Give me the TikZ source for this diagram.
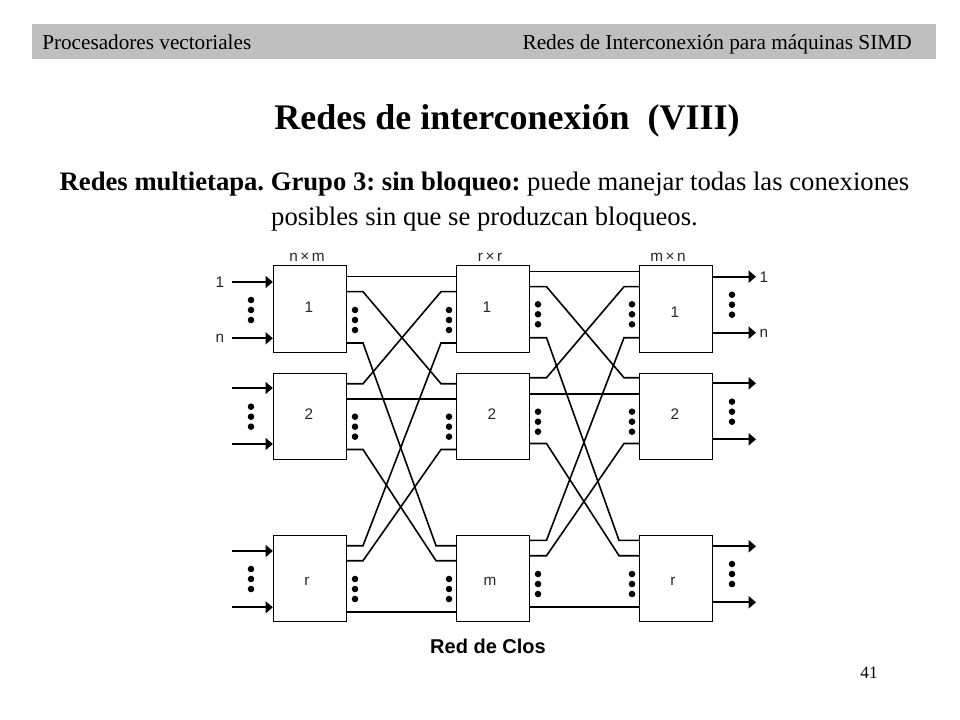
\documentclass[tikz,border=0pt]{standalone}
\usepackage{fontspec}
\setmainfont{Liberation Serif}
\newfontfamily\diagfont{Liberation Sans}
\usetikzlibrary{calc,arrows.meta}
\definecolor{bandgray}{HTML}{BFBFBF}
\tikzset{
  cell/.style={draw,line width=0.75pt,minimum width=55pt,minimum height=64.5pt,inner sep=0pt},
  wire/.style={line width=1.2pt},
  feed/.style={line width=1.6pt,-{Triangle[length=5.5pt,width=9pt]}},
  pip/.style={circle,fill=black,inner sep=0pt,minimum size=4.9pt},
  tag/.style={font=\diagfont\fontsize{11.5pt}{13pt}\selectfont,inner sep=0pt,text=black!85}
}
\begin{document}
\frenchspacing
\begin{tikzpicture}[x=0.75pt,y=-0.75pt]
\useasboundingbox (0,0) rectangle (960,720);

% header
\fill[bandgray] (32,24) rectangle (936,59);
\node[anchor=base west,inner sep=0pt,font=\fontsize{15.9pt}{18pt}\selectfont] (left) at (42,49.5) {Procesadores vectoriales};
\node[anchor=base east,inner sep=0pt,font=\fontsize{16pt}{18pt}\selectfont] (right) at (912,49.5) {Redes de Interconexi\'on para m\'aquinas SIMD};
\node[anchor=base,inner sep=0pt,font=\bfseries\fontsize{27pt}{30pt}\selectfont] (title) at (507,129.5) {Redes de interconexi\'on\ \ (VIII)};
\node[anchor=base,inner sep=0pt,font=\fontsize{20pt}{24pt}\selectfont] (body) at (484.5,191) {\textbf{Redes multietapa. Grupo 3: sin bloqueo:} puede manejar todas las conexiones};
\node[anchor=base,inner sep=0pt,font=\fontsize{20pt}{24pt}\selectfont] (bodyb) at (484.5,225.5) {posibles sin que se produzcan bloqueos.};
\node[inner sep=0pt,font=\fontsize{13pt}{15pt}\selectfont] (page) at (869,673) {41};

% boxes
\node[cell] (a1) at (310,309) {};
\node[cell] (a2) at (310,416) {};
\node[cell] (ar) at (310,578.5) {};
\node[cell] (b1) at (493,309) {};
\node[cell] (b2) at (493,416) {};
\node[cell] (bm) at (493,578.5) {};
\node[cell] (c1) at (676,309) {};
\node[cell] (c2) at (676,416) {};
\node[cell] (cr) at (676,578.5) {};

\node[tag] (a1t) at (309,307) {1};
\node[tag] (a2t) at (309,414) {2};
\node[tag] (art) at (307,581) {r};
\node[tag] (b1t) at (487,307) {1};
\node[tag] (b2t) at (492,414) {2};
\node[tag] (bmt) at (490,581) {m};
\node[tag] (c1t) at (675,312) {1};
\node[tag] (c2t) at (675,414) {2};
\node[tag] (crt) at (673,581) {r};
\node[tag] (ahead) at (307,257) {n\,×\,m};
\node[tag] (bhead) at (490,257) {r\,×\,r};
\node[tag] (chead) at (668,257) {m\,×\,n};

\node[font=\diagfont\bfseries\fontsize{15pt}{17pt}\selectfont,inner sep=0pt] (clos) at (488,646) {Red de Clos};

% ports between the first two stages
\coordinate (a1x) at (346.5,276.7);
\coordinate (a1y) at (346.5,291.7);
\coordinate (a1z) at (346.5,343);
\coordinate (a2x) at (346.5,383.7);
\coordinate (a2y) at (346.5,399);
\coordinate (a2z) at (346.5,449.5);
\coordinate (arx) at (346.5,545.7);
\coordinate (ary) at (346.5,560.7);
\coordinate (arz) at (346.5,611.7);
\coordinate (b1x) at (456.5,276.7);
\coordinate (b1y) at (456.5,291.7);
\coordinate (b1z) at (456.5,343);
\coordinate (b2x) at (456.5,383.7);
\coordinate (b2y) at (456.5,399);
\coordinate (b2z) at (456.5,449.5);
\coordinate (bmx) at (456.5,545.7);
\coordinate (bmy) at (456.5,560.7);
\coordinate (bmz) at (456.5,611.7);

% ports between the last two stages
\coordinate (b1u) at (529.5,271.7);
\coordinate (b1v) at (529.5,286.7);
\coordinate (b1w) at (529.5,337.7);
\coordinate (b2u) at (529.5,377.7);
\coordinate (b2v) at (529.5,393.7);
\coordinate (b2w) at (529.5,443.5);
\coordinate (bmu) at (529.5,540.3);
\coordinate (bmv) at (529.5,555.7);
\coordinate (bmw) at (529.5,606.7);
\coordinate (c1u) at (639.5,271.7);
\coordinate (c1v) at (639.5,286.7);
\coordinate (c1w) at (639.5,337.7);
\coordinate (c2u) at (639.5,377.7);
\coordinate (c2v) at (639.5,393.7);
\coordinate (c2w) at (639.5,443.5);
\coordinate (cru) at (639.5,540.3);
\coordinate (crv) at (639.5,555.7);
\coordinate (crw) at (639.5,606.7);

% first stage to second stage
\draw[wire] (a1x) -- (b1x);
\draw[wire] (a2y) -- (b2y);
\draw[wire] (arz) -- (bmz);
\draw[wire] (a1y) -- ++(16.5,0) -- ($(b2x)+(-15.5,0)$) -- (b2x);
\draw[wire] (a1z) -- ++(16.5,0) -- ($(bmx)+(-20.5,0)$) -- (bmx);
\draw[wire] (a2x) -- ++(16.5,0) -- ($(b1y)+(-15.5,0)$) -- (b1y);
\draw[wire] (a2z) -- ++(16.5,0) -- ($(bmy)+(-20.5,0)$) -- (bmy);
\draw[wire] (arx) -- ++(16.5,0) -- ($(b1z)+(-15.5,0)$) -- (b1z);
\draw[wire] (ary) -- ++(16.5,0) -- ($(b2z)+(-15.5,0)$) -- (b2z);

% second stage to third stage
\draw[wire] (b1u) -- (c1u);
\draw[wire] (b2v) -- (c2v);
\draw[wire] (bmw) -- (crw);
\draw[wire] (b1v) -- ++(17,0) -- ($(c2u)+(-15.5,0)$) -- (c2u);
\draw[wire] (b1w) -- ++(17,0) -- ($(cru)+(-20.5,0)$) -- (cru);
\draw[wire] (b2u) -- ++(17,0) -- ($(c1v)+(-15.5,0)$) -- (c1v);
\draw[wire] (b2w) -- ++(17,0) -- ($(crv)+(-20.5,0)$) -- (crv);
\draw[wire] (bmu) -- ++(17,0) -- ($(c1w)+(-15.5,0)$) -- (c1w);
\draw[wire] (bmv) -- ++(17,0) -- ($(c2w)+(-15.5,0)$) -- (c2w);

% inputs
\coordinate (i1) at (232,282);
\coordinate (i2) at (232,338.3);
\coordinate (i3) at (232,388);
\coordinate (i4) at (232,444);
\coordinate (i5) at (232,551);
\coordinate (i6) at (232,607.3);
\draw[feed] (i1) -- (i1-|a1.west);
\draw[feed] (i2) -- (i2-|a1.west);
\draw[feed] (i3) -- (i3-|a2.west);
\draw[feed] (i4) -- (i4-|a2.west);
\draw[feed] (i5) -- (i5-|ar.west);
\draw[feed] (i6) -- (i6-|ar.west);
\node[tag] (i1t) at (220,282) {1};
\node[tag] (i2t) at (220,338) {n};

% outputs
\coordinate (o1) at (756,276.7);
\coordinate (o2) at (756,332.7);
\coordinate (o3) at (756,383.3);
\coordinate (o4) at (756,439.3);
\coordinate (o5) at (756,546.3);
\coordinate (o6) at (756,602.3);
\draw[feed] (o1-|c1.east) -- (o1);
\draw[feed] (o2-|c1.east) -- (o2);
\draw[feed] (o3-|c2.east) -- (o3);
\draw[feed] (o4-|c2.east) -- (o4);
\draw[feed] (o5-|cr.east) -- (o5);
\draw[feed] (o6-|cr.east) -- (o6);
\node[tag] (o1t) at (764,277) {1};
\node[tag] (o2t) at (764,333) {n};

% dots
\foreach \x/\y in {251/300,251/406.7,251/569,355/310,355/416.7,355/579,449/310,449/416.7,449/579,538/304.3,538/411.7,538/574,632/304.3,632/411.7,632/574,732/294.7,732/401.7,732/564}
  \foreach \k in {0,1,2}
    \node[pip] (d\x-\y-\k) at (\x,\y+10*\k) {};
\end{tikzpicture}
\end{document}
